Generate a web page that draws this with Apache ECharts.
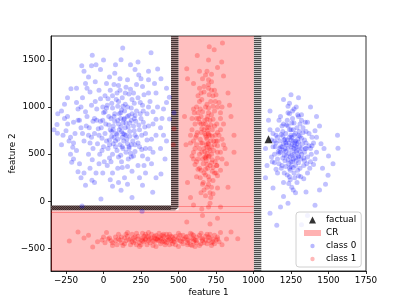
<!DOCTYPE html>
<html>
<head>
<meta charset="utf-8">
<script src="https://cdn.jsdelivr.net/npm/echarts@6/dist/echarts.min.js"></script>
<style>
html,body{margin:0;padding:0;background:#fff;}
#chart{width:407px;height:305px;}
</style>
</head>
<body>
<div id="chart"></div>
<script>
// ---------- data ----------
const xTicks = [-250, 0, 250, 500, 750, 1000, 1250, 1500, 1750];
const yTicks = [-500, 0, 500, 1000, 1500];
const xRange = [-350, 1750];
const yRange = [-740, 1755];

const factual = [[1100, 660]];

// counterfactual region (CR) outline
const crPolygon = [[500, 1755], [1003, 1755], [1003, -740], [-350, -740], [-350, -95], [500, -95]];
const crEdgeLines = [[-350, 1003, -50], [-350, 1003, -115]];

// hatched boundary bands
const hatchLeft = [[450, 1755], [500, 1755], [500, -65], [478, -95], [450, -95]];
const hatchRight = [[1003, 1755], [1052, 1755], [1052, -740], [1003, -740]];
const hatchBottom = [[-350, -45], [450, -45], [450, -95], [-350, -95]];

const class0Left = [
[100,820],[45,760],[160,900],[210,700],[-20,850],[130,1010],[80,640],[250,880],[-60,720],[170,560],
[20,990],[115,790],[190,1080],[-110,900],[60,500],[230,620],[140,960],[-40,610],[90,1150],[300,800],
[10,720],[175,830],[-150,780],[120,420],[260,1020],[50,880],[-80,1020],[200,480],[70,1240],[150,700],
[-10,540],[330,950],[110,600],[-130,640],[240,760],[30,1090],[180,1190],[-60,880],[95,350],[280,560],
[135,870],[-200,840],[60,990],[210,910],[5,420],[160,1290],[-30,1180],[320,660],[85,720],[-100,500],
[195,640],[40,650],[125,1100],[270,1130],[-170,980],[105,930],[230,380],[-50,300],[150,520],[15,820],
[350,870],[75,1360],[-90,620],[185,990],[255,700],[-5,1000],[125,680],[60,300],[220,1240],[-140,1100],
[95,860],[290,930],[30,560],[165,450],[-220,680],[110,1180],[200,800],[-35,770],[140,250],[260,480],
[55,1040],[-75,440],[175,740],[310,1060],[0,940],[130,560],[-115,800],[240,580],[80,1450],[-180,540],
[150,830],[25,380],[205,1040],[-55,1270],[100,470],[280,720],[-10,670],[170,1140],[65,800],[330,520],
[-240,900],[120,740],[220,960],[-90,1160],[45,230],[190,320],[-25,500],[145,1030],[265,840],[80,580],
[-160,400],[110,1300],[350,1150],[10,1120],[185,600],[-70,850],[235,1340],[55,690],[-130,1380],[140,880],
[295,450],[-5,300],[100,1060],[-200,620],[170,910],[40,460],[260,1220],[-45,980],[125,360],[210,530],
[380,780],[75,930],[-100,700],[155,660],[20,1250],[245,1050],[-180,1200],[90,710],[300,1290],[-30,400],
[115,880],[65,760],[185,860],[145,780],[35,900],[95,1010],[160,610],[205,750],[120,970],[70,680],
[75,850],[130,720],[-15,780],[205,880],[160,1000],[40,600],[95,660],[245,930],[180,510],[-45,860],
[60,1120],[125,580],[220,680],[10,950],[150,1210],[-70,560],[105,760],[275,790],[35,810],[190,930],
[-95,780],[135,640],[85,1080],[230,1100],[-30,700],[165,790],[50,420],[210,600],[-120,950],[115,490],
[290,650],[20,640],[145,1150],[-55,1060],[175,690],[70,900],[255,550],[-5,860],[130,830],[200,1150],
[90,540],[-140,720],[235,810],[45,1180],[160,370],[-20,1090],[115,940],[300,1000],[65,610],[185,470],
[-80,680],[140,710],[25,1020],[215,850],[100,1230],[-160,860],[170,580],[55,740],[265,960],[0,580],
[-250,750],[350,700],[-180,1050],[300,1150],[-220,500],[380,560],[-120,1250],[250,1300],[-260,880],[360,1000],
[-90,350],[270,380],[-190,720],[330,820],[-150,1000],[210,1400],[-240,1100],[400,700],[-60,200],[160,180],
[-280,960],[340,1250],[-200,450],[280,300],[-100,1320],[180,1450],[-230,640],[390,880],[-170,860],[320,400],
[0,1500],[240,250],[-130,300],[100,200],[-50,1450],[420,1050],[-270,700],[310,560],[-110,1200],[40,1320],
[-305,930],[-310,815],[-307,722],[-239,822],[-205,574],[-212,415],[-170,315],[-77,223],[-17,24],[117,117],
[328,96],[383,290],[440,875],[439,1106],[383,1301],[361,1404],[317,1578],[128,1628],[-75,1550],[117,1503],
[-145,1440],[-80,1440],[-217,1195],[400,980],[420,640],[410,450],[-260,1030],[260,170],[190,40],[-120,170],
[230,1480],[-20,1400],[420,1200],[-280,600],[300,1380],[60,160],[-150,250],[350,250],[470,940],[-330,760],
[-143,-50],[257,-106]
];

const class0Right = [
[1260,540],[1220,600],[1300,480],[1180,520],[1340,650],[1250,760],[1280,380],[1210,430],[1320,560],[1150,620],
[1270,700],[1235,510],[1360,470],[1195,690],[1290,610],[1245,330],[1310,820],[1170,400],[1265,450],[1225,860],
[1380,560],[1140,500],[1300,700],[1255,600],[1205,300],[1335,380],[1285,520],[1160,760],[1240,680],[1350,740],
[1275,250],[1190,580],[1315,450],[1230,940],[1265,640],[1120,650],[1400,620],[1250,420],[1300,900],[1185,350],
[1340,520],[1215,720],[1270,560],[1160,450],[1295,330],[1230,560],[1380,420],[1255,830],[1205,490],[1325,610],
[1280,460],[1145,580],[1245,230],[1310,690],[1175,640],[1360,300],[1235,400],[1290,780],[1200,610],[1265,360],
[1420,520],[1250,700],[1320,500],[1130,720],[1285,1000],[1215,370],[1345,840],[1190,800],[1275,620],[1235,190],
[1305,580],[1165,530],[1255,490],[1390,680],[1225,650],[1300,410],[1180,900],[1335,460],[1260,880],[1150,340],
[1280,720],[1210,560],[1370,590],[1245,470],[1315,260],[1195,460],[1270,300],[1330,730],[1240,1040],[1160,680],
[1290,540],[1225,280],[1355,400],[1265,760],[1205,650],[1300,630],[1175,560],[1250,580],[1410,450],[1230,800],
[1285,430],[1140,410],[1320,920],[1255,150],[1195,740],[1345,560],[1270,500],[1215,620],[1375,350],[1240,350],
[1275,590],[1235,620],[1295,660],[1260,420],[1220,480],[1310,530],[1250,650],[1285,570],[1200,540],[1270,830],
[1180,580],[1340,430],[1220,810],[1300,270],[1150,700],[1390,590],[1260,960],[1200,200],[1330,780],[1120,470],
[1280,640],[1240,260],[1370,720],[1170,860],[1310,350],[1210,660],[1420,680],[1265,120],[1130,580],[1350,560],
[1190,380],[1295,920],[1240,760],[1400,390],[1160,300],[1320,670],[1230,440],[1450,610],[1270,980],[1110,760],
[1300,470],[1215,530],[1360,840],[1185,710],[1335,240],[1255,680],[1140,640],[1385,500],[1230,1010],[1290,200],
[1170,510],[1320,860],[1250,370],[1410,750],[1200,820],[1280,90],[1350,620],[1125,420],[1305,740],[1240,930],
[1563,564],[1530,400],[1497,276],[1110,-128],[1155,-255],[1410,-43],[1100,860],[1560,700],[1470,560],[1440,800],
[1090,380],[1080,560],[1480,180],[1130,140],[1200,50],[1350,100],[1420,900],[1300,1100],[1200,1080],[1360,-150],
[1230,-20],[1460,350],[1080,250],[1500,480],[1250,1130],[1380,1000],[1110,960],[1440,120],[1320,-250],[1180,-60]
];

const class1Vertical = [
[690,575],[650,620],[720,500],[700,700],[660,450],[735,640],[680,820],[710,380],[640,560],[760,590],
[695,900],[670,300],[725,760],[615,680],[705,480],[680,1000],[745,420],[655,770],[700,260],[730,870],
[600,520],[690,660],[760,730],[640,350],[715,1060],[675,530],[700,180],[750,300],[620,880],[685,430],
[730,1120],[660,620],[710,700],[590,760],[780,520],[695,350],[645,980],[720,580],[670,120],[740,960],
[700,790],[630,450],[755,820],[685,600],[610,390],[720,1180],[675,720],[705,230],[640,840],[790,660],
[690,510],[655,1080],[730,360],[700,940],[620,600],[760,460],[680,280],[715,640],[650,730],[700,1240],
[735,540],[665,400],[690,870],[605,940],[745,700],[710,90],[670,560],[780,880],[630,1120],[700,470],
[725,320],[645,660],[690,1030],[760,1000],[680,700],[715,810],[600,450],[665,200],[740,600],[690,390],
[720,920],[640,500],[705,1130],[675,860],[755,380],[625,730],[695,610],[730,220],[660,950],[710,540],
[780,760],[650,330],[700,720],[580,620],[745,1060],[685,480],[715,40],[635,880],[690,780],[760,640],
[670,1160],[725,440],[645,250],[700,990],[760,270],[620,1000],[690,150],[740,800],[655,520],[710,860],
[685,680],[705,560],[665,820],[725,690],[675,470],[695,750],[650,900],[720,410],[680,340],[700,610],
[620,700],[760,520],[650,1150],[740,300],[590,480],[800,600],[670,1220],[720,150],[610,820],[780,940],
[680,60],[750,1130],[630,340],[700,1290],[790,450],[600,640],[730,1010],[660,180],[770,700],[640,1060],
[710,-20],[590,880],[755,380],[680,1340],[620,260],[800,820],[700,1200],[650,90],[740,1180],[600,980],
[780,330],[670,760],[720,1270],[630,940],[760,140],[690,1380],[610,560],[750,640],[660,1300],[730,80],
[580,700],[810,560],[700,-60],[640,1200],[770,1050],[620,420],[720,1350],[680,460],[790,1000],[650,820],
[705,1640],[738,1610],[793,1680],[625,1547],[788,1478],[555,1407],[655,-82],[710,-241],[555,-220],[560,1300],
[830,1150],[850,900],[560,200],[600,1250],[820,400],[800,1330],[540,900],[870,700],[760,1420],[640,1380],
[830,150],[580,40],[780,-60],[660,-150],[550,600],[870,520],[840,1020],[600,-40],[760,-180],[700,1500],
[470,770],[465,600]
];

const class1Horizontal = [
[390,-400],[300,-380],[450,-420],[350,-360],[500,-390],[250,-410],[420,-440],[330,-420],[560,-370],[280,-350],
[470,-400],[200,-390],[380,-450],[610,-410],[310,-400],[440,-350],[520,-430],[360,-410],[230,-370],[650,-390],
[400,-370],[150,-420],[480,-460],[270,-430],[590,-350],[340,-390],[700,-420],[430,-410],[190,-350],[540,-400],
[370,-340],[620,-440],[290,-460],[460,-380],[100,-400],[680,-370],[410,-430],[320,-350],[570,-420],[240,-440],
[500,-340],[380,-390],[730,-400],[210,-420],[450,-370],[350,-480],[640,-360],[260,-390],[530,-450],[420,-390],
[160,-370],[600,-400],[310,-440],[470,-430],[720,-440],[390,-360],[280,-400],[550,-380],[120,-440],[660,-420],
[340,-430],[490,-410],[230,-400],[580,-460],[400,-420],[760,-380],[300,-330],[440,-460],[180,-400],[620,-380],
[360,-400],[510,-360],[270,-370],[690,-450],[420,-350],[80,-380],[560,-410],[330,-470],[460,-420],[740,-360],
[250,-460],[390,-430],[600,-430],[140,-450],[480,-370],[300,-420],[650,-450],[370,-380],[530,-400],[220,-340],
[710,-390],[410,-460],[280,-410],[590,-390],[50,-420],[440,-400],[340,-370],[770,-430],[500,-480],[190,-430],
[320,-390],[430,-380],[370,-420],[260,-420],[510,-420],[350,-400],[400,-350],[290,-370],[460,-450],[560,-440],
[120,-380],[620,-420],[200,-440],[700,-380],[80,-420],[560,-460],[150,-350],[660,-400],[240,-480],[730,-430],
[40,-390],[600,-360],[180,-460],[750,-410],[100,-350],[640,-470],[260,-340],[690,-350],[130,-470],[580,-340],
[210,-380],[720,-470],[60,-440],[530,-360],[170,-410],[670,-440],[90,-460],[610,-480],[220,-460],[760,-400],
[-10,-410],[680,-410],[140,-390],[710,-350],[10,-440],[590,-470],[160,-330],[740,-450],[110,-410],[650,-340],
[-228,-422],[-170,-327],[-130,-390],[-72,-486],[850,-327],[895,-397],[0,-380],[-40,-430],[20,-330],[60,-470],
[790,-460],[820,-400],[-100,-360],[780,-330],[30,-400]
];

// ---------- styles ----------
function stripePattern(c1, c2, checker) {
  const cv = document.createElement('canvas');
  cv.width = 2; cv.height = 2;
  const g = cv.getContext('2d');
  g.fillStyle = c2; g.fillRect(0, 0, 2, 2);
  g.fillStyle = c1;
  if (checker) { g.fillRect(0, 0, 1, 1); g.fillRect(1, 1, 1, 1); }
  else { g.fillRect(0, 0, 2, 1); }
  return { image: cv, repeat: 'repeat' };
}
const hatchBands = [
  { poly: hatchLeft, fill: stripePattern('#463636', '#a58a8a', false) },
  { poly: hatchRight, fill: stripePattern('#4a4a4a', '#c8c8c8', false) },
  { poly: hatchBottom, fill: stripePattern('#3a2a2a', '#6e5555', true) }
];

const FONT = 'DejaVu Sans';
const fmt = v => String(v).replace('-', '\u2212');

const chart = echarts.init(document.getElementById('chart'), null, { renderer: 'canvas' });

const option = {
  animation: false,
  backgroundColor: '#fff',
  grid: { left: 51, right: 41, top: 36, bottom: 34, containLabel: false, outerBoundsMode: 'none',
          show: true, borderColor: '#000', borderWidth: 0.8, backgroundColor: 'transparent' },
  xAxis: {
    type: 'value', min: xRange[0], max: xRange[1],
    name: 'feature 1', nameLocation: 'middle', nameGap: 17, nameMoveOverlap: false,
    nameTextStyle: { fontFamily: FONT, fontSize: 8.8, color: '#000' },
    axisLine: { show: true, onZero: false, lineStyle: { color: '#000', width: 0.8 } },
    axisTick: { show: true, inside: false, length: 3, customValues: xTicks, lineStyle: { color: '#000', width: 0.8 } },
    axisLabel: { customValues: xTicks, formatter: fmt, fontFamily: FONT, fontSize: 8.8, color: '#000', margin: 5 },
    splitLine: { show: false }
  },
  yAxis: {
    type: 'value', min: yRange[0], max: yRange[1],
    name: 'feature 2', nameLocation: 'middle', nameGap: 34, nameMoveOverlap: false,
    nameTextStyle: { fontFamily: FONT, fontSize: 8.8, color: '#000' },
    axisLine: { show: true, onZero: false, lineStyle: { color: '#000', width: 0.8 } },
    axisTick: { show: true, inside: false, length: 3, customValues: yTicks, lineStyle: { color: '#000', width: 0.8 } },
    axisLabel: { customValues: yTicks, formatter: fmt, fontFamily: FONT, fontSize: 8.8, color: '#000', margin: 6 },
    splitLine: { show: false }
  },
  legend: {
    orient: 'vertical', left: 296, top: 212,
    padding: [2, 5, 2, 8], itemGap: 1, itemWidth: 17, itemHeight: 10,
    backgroundColor: 'rgba(255,255,255,0.8)', borderColor: '#d0d0d0', borderWidth: 1, borderRadius: 3,
    selectedMode: false,
    textStyle: { fontFamily: FONT, fontSize: 8.8, color: '#000', lineHeight: 12 },
    data: [
      { name: 'factual', icon: 'path://M0,0M10,10M1.5,8.5L5,1.5L8.5,8.5Z', itemStyle: { color: '#000' } },
      { name: 'CR', icon: 'path://M0,0M17,10M0,2H17V8H0Z', itemStyle: { color: 'rgba(255,0,0,0.3)' } },
      { name: 'class 0', icon: 'path://M0,0M10,10M2.8,5a2.2,2.2 0 1,0 4.4,0a2.2,2.2 0 1,0 -4.4,0Z', itemStyle: { color: 'rgba(0,0,255,0.35)' } },
      { name: 'class 1', icon: 'path://M0,0M10,10M2.8,5a2.2,2.2 0 1,0 4.4,0a2.2,2.2 0 1,0 -4.4,0Z', itemStyle: { color: 'rgba(255,0,0,0.35)' } }
    ]
  },
  series: [
    {
      name: 'CR', type: 'custom', clip: true, silent: true, z: 1,
      itemStyle: { color: 'rgba(255,0,0,0.25)' },
      data: [0],
      renderItem: function (params, api) {
        const children = [{
          type: 'polygon',
          shape: { points: crPolygon.map(p => api.coord(p)) },
          style: { fill: 'rgba(255,0,0,0.25)', stroke: null }
        }];
        crEdgeLines.forEach(l => {
          const a = api.coord([l[0], l[2]]), b = api.coord([l[1], l[2]]);
          children.push({ type: 'line', shape: { x1: a[0], y1: Math.round(a[1]) + 0.5, x2: b[0], y2: Math.round(b[1]) + 0.5 },
            style: { stroke: 'rgba(255,0,0,0.3)', lineWidth: 1 } });
        });
        return { type: 'group', children: children };
      }
    },
    {
      name: 'hatch', type: 'custom', clip: true, silent: true, z: 2,
      data: hatchBands.map((b, i) => i),
      renderItem: function (params, api) {
        const band = hatchBands[params.dataIndex];
        return {
          type: 'polygon',
          shape: { points: band.poly.map(p => api.coord(p)) },
          style: { fill: band.fill, stroke: null }
        };
      }
    },
    {
      name: 'class 0', type: 'scatter', z: 3, symbolSize: 5, silent: true,
      itemStyle: { color: 'rgba(0,0,255,0.3)' },
      data: class0Left.concat(class0Right)
    },
    {
      name: 'class 1', type: 'scatter', z: 3, symbolSize: 5, silent: true,
      itemStyle: { color: 'rgba(255,0,0,0.3)' },
      data: class1Vertical.concat(class1Horizontal)
    },
    {
      name: 'factual', type: 'scatter', z: 4, symbol: 'triangle', symbolSize: 8, silent: true,
      itemStyle: { color: '#000' },
      data: factual
    }
  ]
};
chart.setOption(option);
</script>
</body>
</html>
